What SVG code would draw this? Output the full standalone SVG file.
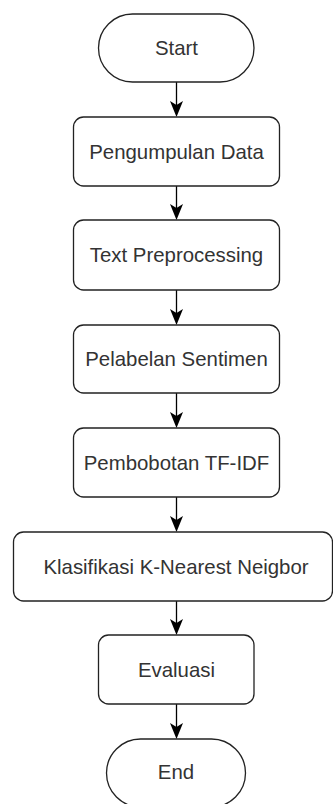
<svg xmlns="http://www.w3.org/2000/svg" width="333" height="804" viewBox="0 0 333 804">
<style>
.n{fill:#fff;stroke:#222;stroke-width:1.3}
.t{font-family:"Liberation Sans",Arial,sans-serif;font-size:20.4px;fill:#333;text-anchor:middle}
.c{stroke:#000;stroke-width:1.3;fill:none}
</style>
<defs>
<path id="h" d="M0 0 L-6.5 -16 L0 -12 L6.5 -16 Z"/>
</defs>
<rect width="333" height="804" fill="#fff"/>
<g id="connectors">
<line class="c" x1="176.5" y1="82" x2="176.5" y2="105"/>
<use href="#h" x="176.5" y="117"/>
<line class="c" x1="176.5" y1="186" x2="176.5" y2="208"/>
<use href="#h" x="176.5" y="220"/>
<line class="c" x1="176.5" y1="290" x2="176.5" y2="313"/>
<use href="#h" x="176.5" y="325"/>
<line class="c" x1="176.5" y1="393" x2="176.5" y2="416"/>
<use href="#h" x="176.5" y="428"/>
<line class="c" x1="176.5" y1="497" x2="176.5" y2="520"/>
<use href="#h" x="176.5" y="532"/>
<line class="c" x1="176.5" y1="601" x2="176.5" y2="623"/>
<use href="#h" x="176.5" y="635"/>
<line class="c" x1="176.5" y1="704" x2="176.5" y2="727"/>
<use href="#h" x="176.5" y="739"/>
</g>
<g id="start">
<rect class="n" x="98.5" y="14" width="155.5" height="68" rx="34"/>
<text class="t" x="176.5" y="55">Start</text>
</g>
<g id="pengumpulan">
<rect class="n" x="73.5" y="117" width="206" height="69" rx="10"/>
<text class="t" x="176.5" y="158.5">Pengumpulan Data</text>
</g>
<g id="preprocessing">
<rect class="n" x="73.5" y="220" width="206" height="70" rx="10"/>
<text class="t" x="176.5" y="262">Text Preprocessing</text>
</g>
<g id="pelabelan">
<rect class="n" x="73.5" y="325" width="206" height="68" rx="10"/>
<text class="t" x="176.5" y="366">Pelabelan Sentimen</text>
</g>
<g id="pembobotan">
<rect class="n" x="73.5" y="428" width="206" height="69" rx="10"/>
<text class="t" x="176.5" y="469.5">Pembobotan TF-IDF</text>
</g>
<g id="klasifikasi">
<rect class="n" x="13.5" y="532" width="319" height="69" rx="10"/>
<text class="t" x="176" y="573.5">Klasifikasi K-Nearest Neigbor</text>
</g>
<g id="evaluasi">
<rect class="n" x="98.5" y="635" width="155.5" height="69" rx="10"/>
<text class="t" x="176.5" y="676.5">Evaluasi</text>
</g>
<g id="end">
<rect class="n" x="106.5" y="739" width="139" height="68" rx="34"/>
<text class="t" x="176" y="779">End</text>
</g>
</svg>
